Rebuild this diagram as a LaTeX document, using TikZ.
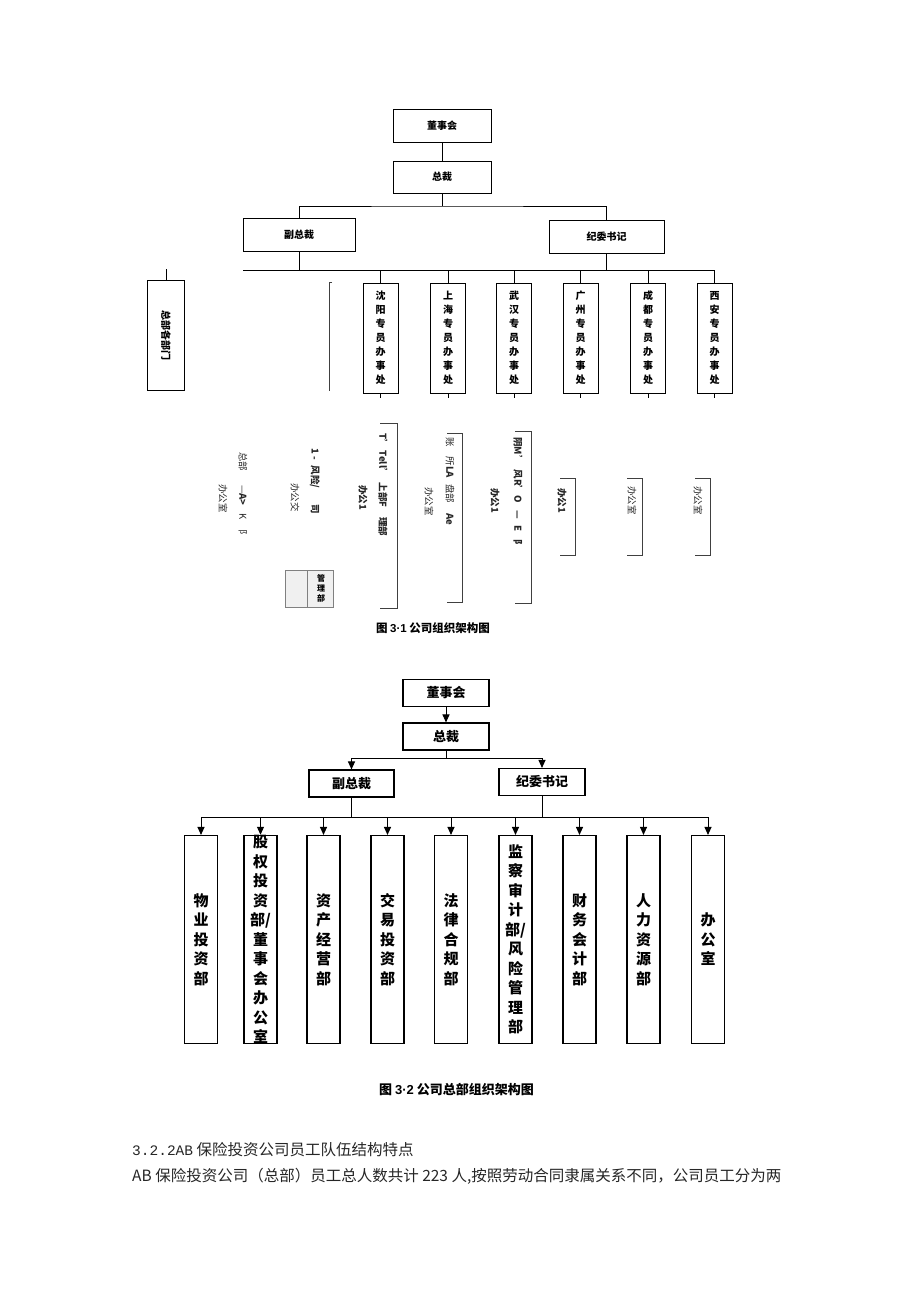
\documentclass[tikz,border=0pt]{standalone}
\usepackage{fontspec}
\setmainfont{Noto Sans CJK SC}
\newfontfamily\latinsans{Liberation Sans}
\newfontfamily\latinmono{Liberation Mono}
\usetikzlibrary{arrows.meta}

\tikzset{
  topbox/.style={draw, line width=0.9pt, minimum width=98pt, minimum height=33pt,
    inner sep=0pt, font=\fontsize{10}{10}\selectfont\bfseries},
  office/.style={draw, line width=0.9pt, minimum width=35pt, minimum height=110pt,
    inner sep=0pt, align=center, font=\fontsize{10}{14}\selectfont\bfseries},
  frag/.style={rotate=-90, inner sep=0pt, anchor=west, text=black!85,
    font=\fontsize{9.5}{9.5}\selectfont},
  fragb/.style={frag, font=\fontsize{9.5}{9.5}\selectfont\bfseries},
  bracket/.style={line width=0.8pt, draw=black!75},
  box2/.style={draw, line width=1.1pt, minimum width=86pt, minimum height=27pt,
    inner sep=0pt, font=\fontsize{13}{13}\selectfont\bfseries},
  dept/.style={draw, line width=1.1pt, minimum width=33pt, minimum height=208pt,
    inner sep=0pt, align=center, font=\fontsize{15}{19.5}\selectfont\bfseries},
  arr/.style={line width=1pt, -{Triangle[length=8pt,width=7pt]}},
  caption/.style={inner sep=0pt, font=\fontsize{11.5}{11.5}\selectfont\bfseries},
  body/.style={inner sep=0pt, anchor=west, text=black!85, font=\fontsize{15.5}{15.5}\selectfont}
}

\begin{document}
\begin{tikzpicture}[x=1pt, y=-1pt]
  \useasboundingbox (0,0) rectangle (920,1301);

  % figure 3-1
  \node[topbox] (dsh) at (442,125.5) {董事会};
  \node[topbox, minimum height=32pt] (zc) at (442,177) {总裁};
  \node[topbox, minimum width=112pt] (fzc) at (299,234.5) {副总裁};
  \node[topbox, minimum width=115pt] (jw) at (606.5,236.5) {纪委书记};
  \coordinate (zj) at (442,206);
  \coordinate (barl) at (243,270);
  \coordinate (barr) at (715,270);

  \draw[line width=0.9pt] (dsh) -- (zc);
  \draw[line width=0.9pt] (zc) -- (zj);
  \draw[line width=0.9pt] (fzc.north) |- (zj) -| (jw.north);
  \draw[line width=0.9pt] (fzc.south) -- (fzc.south |- barl);
  \draw[line width=0.9pt] (jw.south) -- (jw.south |- barl);
  \draw[line width=0.9pt] (barl) -- (barr);

  \node[office, minimum width=37pt] (zbgbm) at (166,335) {\rotatebox{-90}{总部各部门}};
  \coordinate (zbtop) at (166,269);
  \draw[line width=0.9pt] (zbtop) -- (zbgbm);
  \draw[bracket] (332,282) -- (329,282) -- (329,391);

  \foreach \c/\x/\t in {sy/380.5/{沈\\阳\\专\\员\\办\\事\\处},
                        sh/448/{上\\海\\专\\员\\办\\事\\处},
                        wh/514/{武\\汉\\专\\员\\办\\事\\处},
                        gz/580.5/{广\\州\\专\\员\\办\\事\\处},
                        cd/648/{成\\都\\专\\员\\办\\事\\处},
                        xa/714.5/{西\\安\\专\\员\\办\\事\\处}} {
    \node[office] (\c) at (\x,338) {\t};
    \draw[line width=0.9pt] (\c.north) -- (\c.north |- barl);
    \draw[line width=0.9pt] (\c.south) -- ++(0,5);
  }

  % broken lower part of figure 3-1
  \draw[bracket] (380,423) -- (397,423) -- (397,608) -- (380,608);
  \draw[bracket] (447,433) -- (462,433) -- (462,602) -- (447,602);
  \draw[bracket] (515,431) -- (531,431) -- (531,603) -- (515,603);
  \draw[bracket] (560,478) -- (575,478) -- (575,555) -- (560,555);
  \draw[bracket] (627,478) -- (642,478) -- (642,555) -- (627,555);
  \draw[bracket] (695,478) -- (710,478) -- (710,555) -- (695,555);

  \node[frag] (bg1) at (223,484) {办公室};
  \node[frag] (bg2) at (429,487) {办公室};
  \node[frag] (bg3) at (632,486) {办公室};
  \node[frag] (bg4) at (698,486) {办公室};
  \node[frag] (bj1) at (295,483) {办公交};
  \node[fragb] (bo1) at (363,485) {办公1};
  \node[fragb] (bo2) at (495,488) {办公1};
  \node[fragb] (bo3) at (562,488) {办公1};
  \node[frag] (gb1) at (243,452) {总部\hspace{14pt}—\textbf{A>}\hspace{8pt}K\hspace{10pt}阝};
  \node[fragb] (gb2) at (315,448) {1 -\hspace{6pt}风险/\hspace{16pt}司};
  \node[fragb] (gb3) at (383,433) {T' Tell'\hspace{5pt}上部F\hspace{10pt}理部};
  \node[frag] (gb4) at (450,437) {账\hspace{10pt}所\textbf{LA}\hspace{6pt}盘部\hspace{10pt}\textbf{Ae}};
  \node[fragb] (gb5) at (518,437) {阴M'\hspace{5pt}风R'O\hspace{8pt}—\hspace{6pt}E\hspace{8pt}阝};
  \draw[line width=0.6pt, draw=black!50, fill=black!6] (285,570) rectangle (333,607);
  \draw[line width=0.6pt, draw=black!50] (307,570) -- (307,607);
  \node[inner sep=0pt, align=center, font=\fontsize{8}{10}\selectfont\bfseries] (glb) at (321,588) {管\\理\\部};

  \node[caption] (cap1) at (433,628) {图 {\latinsans 3·1} 公司组织架构图};

  % figure 3-2
  \node[box2] (dsh2) at (446,693) {董事会};
  \node[box2] (zc2) at (446,736.5) {总裁};
  \node[box2, minimum width=85pt] (fzc2) at (351.5,783.5) {副总裁};
  \node[box2] (jw2) at (542,782) {纪委书记};
  \coordinate (zj2) at (446,758);
  \coordinate (bar2l) at (201,817);
  \coordinate (bar2r) at (708,817);

  \draw[arr] (dsh2) -- (zc2);
  \draw[line width=1pt] (zc2) -- (zj2);
  \draw[arr] (zj2) -| (fzc2.north);
  \draw[arr] (zj2) -| (jw2.north);
  \draw[line width=1pt] (fzc2.south) -- (fzc2.south |- bar2l);
  \draw[line width=1pt] (jw2.south) -- (jw2.south |- bar2l);
  \draw[line width=1pt] (bar2l) -- (bar2r);

  \foreach \c/\x/\t in {wy/201/{物\\业\\投\\资\\部},
                        gq/260.5/{股\\权\\投\\资\\部/\\董\\事\\会\\办\\公\\室},
                        zcjy/323.5/{资\\产\\经\\营\\部},
                        jy/387.5/{交\\易\\投\\资\\部},
                        fl/451/{法\\律\\合\\规\\部},
                        jc/515.5/{监\\察\\审\\计\\部/\\风\\险\\管\\理\\部},
                        cw/579.5/{财\\务\\会\\计\\部},
                        rl/643.5/{人\\力\\资\\源\\部},
                        bgs/708/{办\\公\\室}} {
    \node[dept] (\c) at (\x,939.5) {\t};
    \draw[arr] (\c.north |- bar2l) -- (\c.north);
  }

  \node[caption, font=\fontsize{13}{13}\selectfont\bfseries] (cap2) at (456.5,1090) {图 {\latinsans 3·2} 公司总部组织架构图};

  \node[body] (h1) at (132,1150) {{\latinmono\fontsize{14.5}{14.5}\selectfont 3.2.2AB} 保险投资公司员工队伍结构特点};
  \node[body] (p1) at (132,1176) {AB 保险投资公司（总部）员工总人数共计 223 人,按照劳动合同隶属关系不同，公司员工分为两};
\end{tikzpicture}
\end{document}
